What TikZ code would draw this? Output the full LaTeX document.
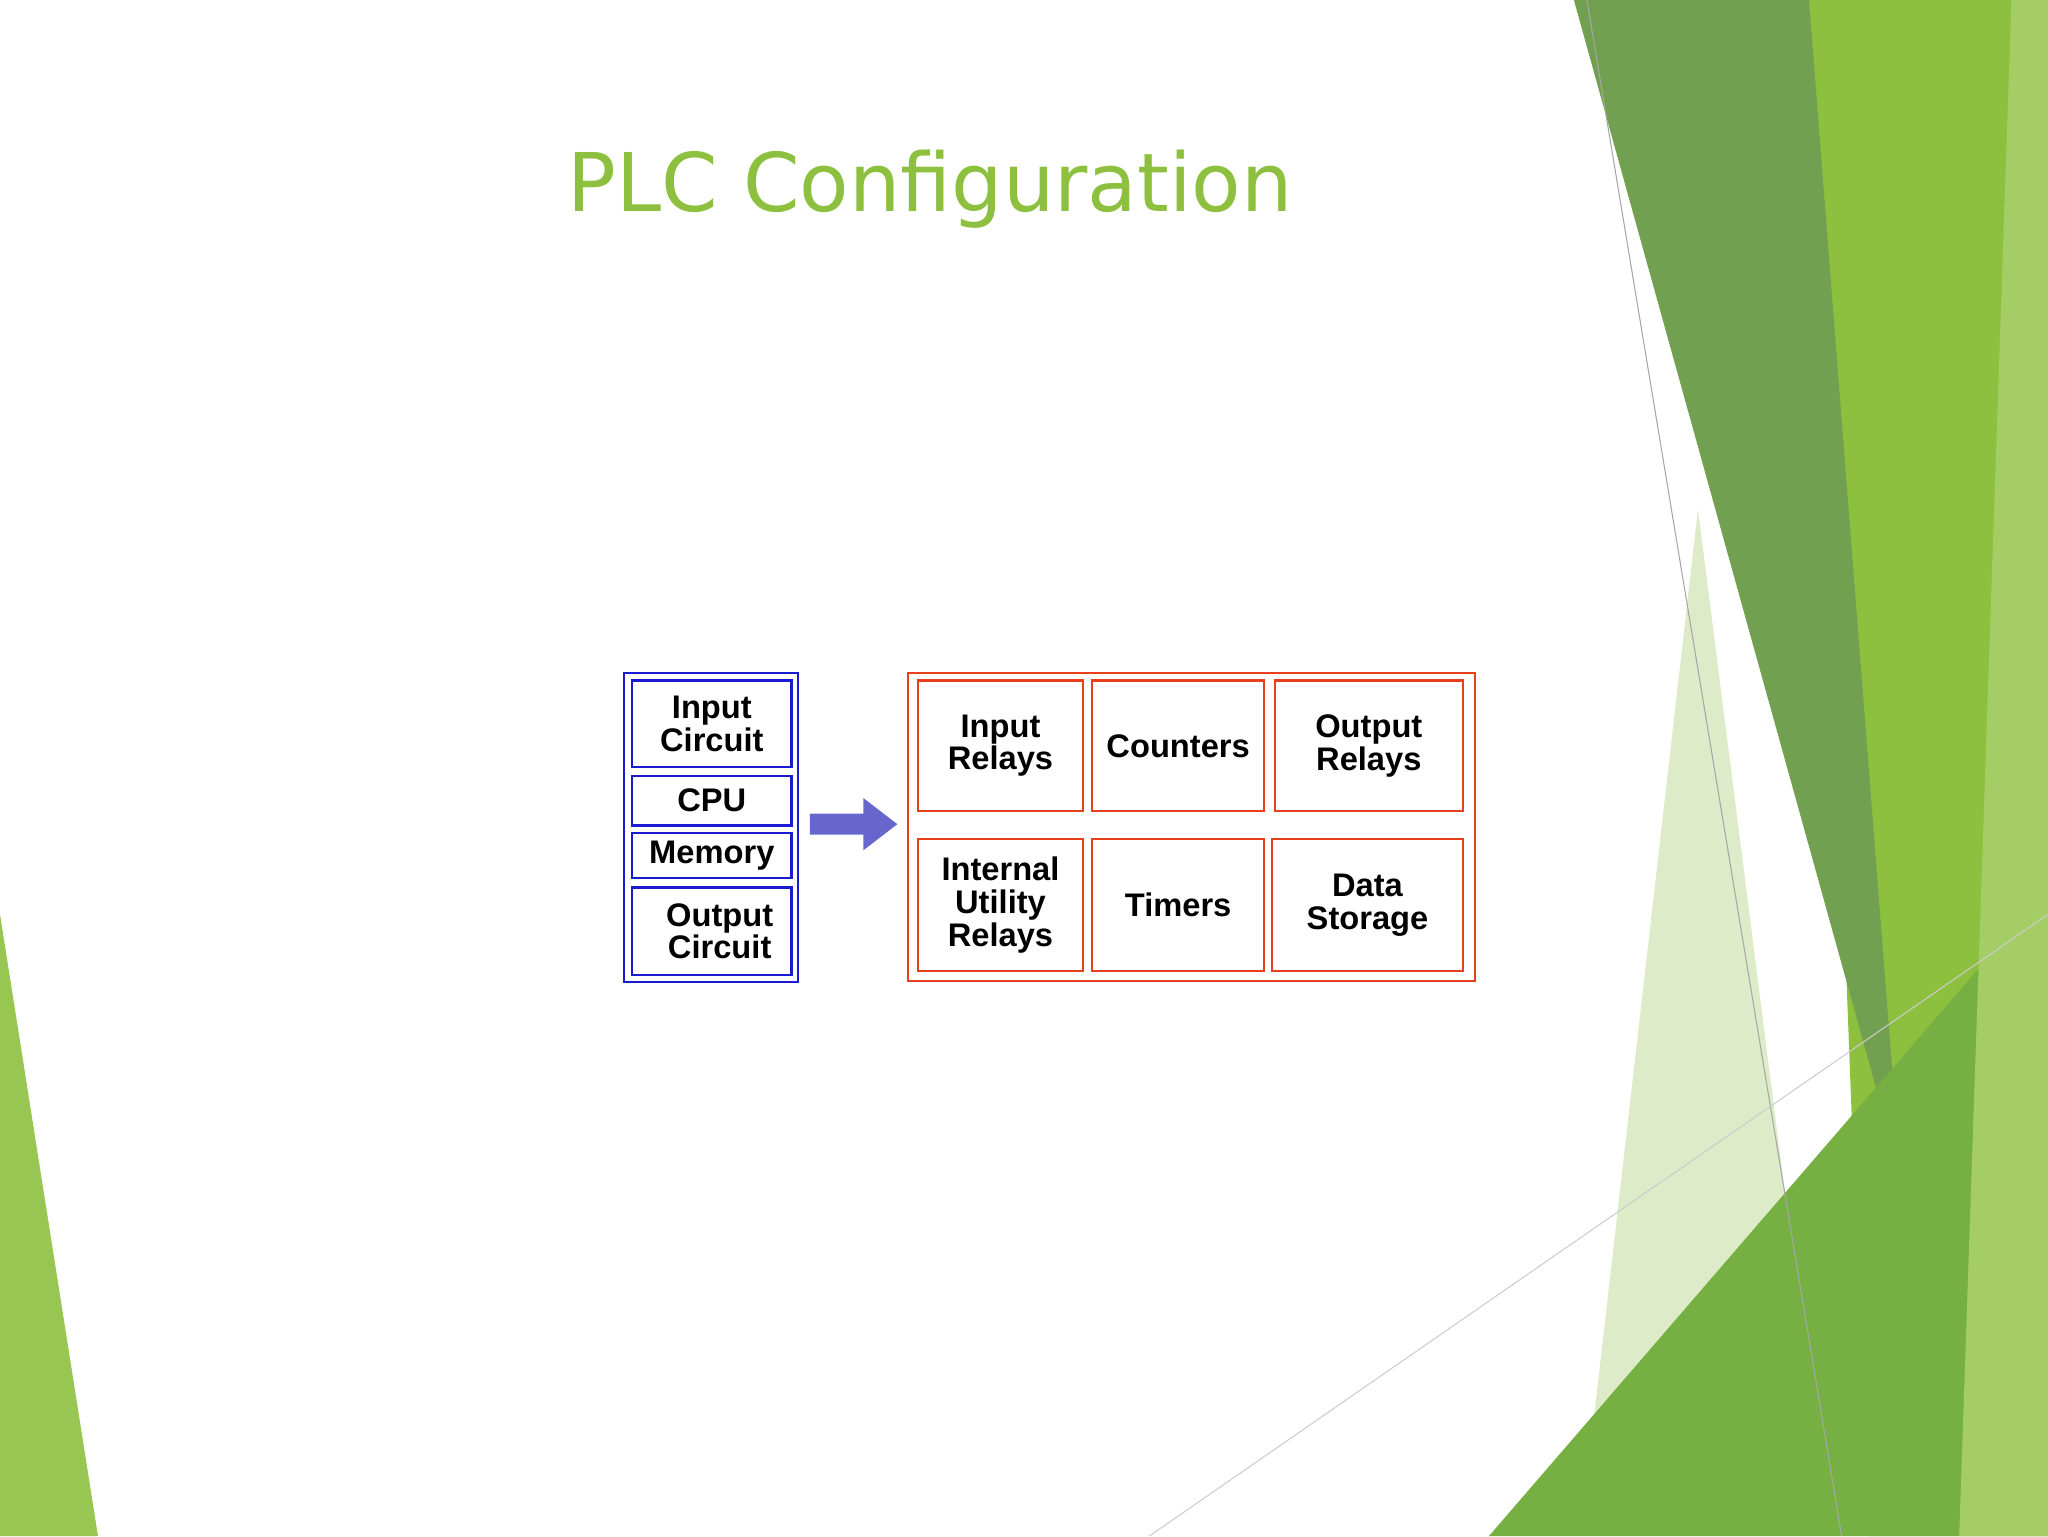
\documentclass[tikz,border=0pt]{standalone}
\usepackage{fontspec}
\setmainfont{Liberation Sans}
\newfontfamily\titlefont{DejaVu Sans}
\definecolor{tg}{HTML}{8DC03F}
\definecolor{dg}{HTML}{71A050}
\definecolor{mg}{HTML}{76B043}
\definecolor{pg}{HTML}{DDEBC8}
\definecolor{bl}{HTML}{1A1AD0}
\definecolor{rd}{HTML}{E8401C}
\definecolor{ar}{HTML}{6666CC}
\tikzset{bbox/.style={draw=bl,line width=1.6pt},
rbox/.style={draw=rd,line width=1.6pt},
lbl/.style={font=\bfseries\fontsize{25}{27}\selectfont,align=center}}
\begin{document}
\begin{tikzpicture}[x=1pt,y=-1pt]
\useasboundingbox (0,0) rectangle (1568,1176);
% background
\fill[tg] (1385,0) -- (1568,0) -- (1568,1176) -- (1430,1176) -- cycle;
\fill[pg] (1300,390) -- (1400,1176) -- (1210,1176) -- cycle;
\fill[dg] (1205,0) -- (1385,0) -- (1455,900) -- cycle;
\fill[mg] (1568,680) -- (1568,1176) -- (1140,1176) -- cycle;
\fill[tg!80!white] (1540,0) -- (1568,0) -- (1568,1176) -- (1500,1176) -- cycle;
\fill[tg!90!white] (0,700) -- (75,1176) -- (0,1176) -- cycle;
\draw[gray!70,line width=0.8pt] (1215,0) -- (1410,1176);
\draw[gray!40,line width=0.8pt] (880,1176) -- (1568,700);
% title
\node[text=tg,font=\titlefont\fontsize{62}{64}\selectfont] (title) at (712,145) {PLC Configuration};
% blue
\draw[bbox] (478,515) rectangle (611,752);
\node[bbox,lbl,minimum width=122,minimum height=66,inner sep=0] (ic) at (545,554) {Input\\[-2pt]Circuit};
\node[bbox,lbl,minimum width=122,minimum height=38,inner sep=0] (cpu) at (545,613) {CPU};
\node[bbox,lbl,minimum width=122,minimum height=35,inner sep=0] (mem) at (545,655) {Memory};
\node[bbox,lbl,minimum width=122,minimum height=67,inner sep=0] (oc) at (545,713) {\hspace*{12pt}Output\\[-2pt]\hspace*{12pt}Circuit};
% arrow
\fill[ar] (620,623) -- (661,623) -- (661,611) -- (687,631) -- (661,651) -- (661,639) -- (620,639) -- cycle;
% red
\draw[rbox] (695,515) rectangle (1129,751);
\node[rbox,lbl,minimum width=126,minimum height=100,inner sep=0] (ir) at (766,571) {Input\\[-2pt]Relays};
\node[rbox,lbl,minimum width=132,minimum height=100,inner sep=0] (cn) at (902,571) {Counters};
\node[rbox,lbl,minimum width=144,minimum height=100,inner sep=0] (or) at (1048,571) {Output\\[-2pt]Relays};
\node[rbox,lbl,minimum width=126,minimum height=101,inner sep=0] (iu) at (766,693) {Internal\\[-2pt]Utility\\[-2pt]Relays};
\node[rbox,lbl,minimum width=132,minimum height=101,inner sep=0] (tm) at (902,693) {Timers};
\node[rbox,lbl,minimum width=146,minimum height=101,inner sep=0] (ds) at (1047,693) {Data\\[-2pt]Storage};
\end{tikzpicture}
\end{document}
